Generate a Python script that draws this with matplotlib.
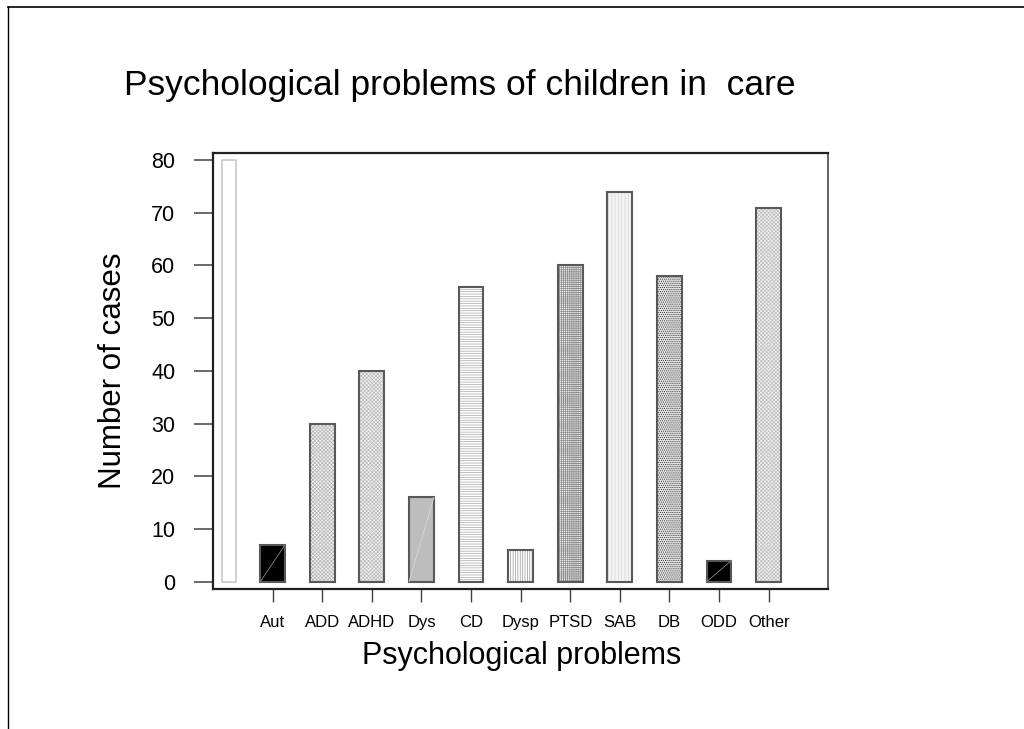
import numpy as np
import matplotlib.pyplot as plt
from matplotlib.lines import Line2D

plt.rcParams['font.family'] = ['Liberation Sans', 'DejaVu Sans']
plt.rcParams['hatch.linewidth'] = 0.5

# data
problems = ['Aut', 'ADD', 'ADHD', 'Dys', 'CD', 'Dysp', 'PTSD', 'SAB', 'DB', 'ODD', 'Other']
cases = [7, 30, 40, 16, 56, 6, 60, 74, 58, 4, 71]
blank_bar = 80  # unlabelled white bar at the far left

# fill styles per bar: (face colour, hatch, hatch colour)
styles = [('black', None, 'black'),
          ('#f2f2f2', 'xxxxxxxxx', '#b4b4b4'),
          ('#f2f2f2', 'xxxxxxxxx', '#b8b8b8'),
          ('#bdbdbd', None, '#bdbdbd'),
          ('white', '-------', '#a8a8a8'),
          ('white', '|||||||', '#959595'),
          ('#f0f0f0', '++++++++', '#8a8a8a'),
          ('#f4f4f4', '|||||', '#d6d6d6'),
          ('#e4e4e4', '........', '#303030'),
          ('black', None, 'black'),
          ('#f2f2f2', 'xxxxxxxxx', '#bcbcbc')]

fig = plt.figure(figsize=(10.24, 7.29), dpi=100)
ax = fig.add_axes([0.2077, 0.192, 0.6006, 0.5985])

x = np.arange(1, len(problems) + 1)

# blank bar
ax.bar(0.12, blank_bar, width=0.28, color='white', edgecolor='#c8c8c8', linewidth=1.2)

for xi, v, (fc, h, hc) in zip(x, cases, styles):
    ax.bar(xi, v, width=0.5, color=fc, hatch=h, edgecolor=hc, linewidth=0)
    b = ax.bar(xi, v, width=0.5, fill=False, edgecolor='#585858', linewidth=1.5)[0]
    if h is None:
        # thin diagonal across solid bars
        x0, w = b.get_x(), b.get_width()
        lc = '#888888' if fc == 'black' else '#d8d8d8'
        ax.plot([x0, x0 + w], [0, v], color=lc, lw=0.6)

ax.set_xlim(-0.21, 12.19)
ax.set_ylim(-1.4, 81.4)
ax.set_yticks(np.arange(0, 81, 10))
ax.set_xticks(x)
ax.set_xticklabels(problems, fontsize=12)
ax.tick_params(axis='y', labelsize=15.5, length=14, width=1.2, color='#505050', pad=13)
ax.tick_params(axis='x', length=9.5, width=1, color='#404040', pad=9)

for s in ['left', 'bottom', 'top']:
    ax.spines[s].set_color('#202020')
    ax.spines[s].set_linewidth(1.6)
ax.spines['right'].set_color('#606060')
ax.spines['right'].set_linewidth(1.4)

fig.text(460 / 1024, 1 - 85 / 729, 'Psychological problems of children in  care',
         fontsize=25.5, ha='center', va='center')
fig.text(522 / 1024, 1 - 656 / 729, 'Psychological problems',
         fontsize=22, ha='center', va='center')
fig.text(113 / 1024, 1 - 371 / 729, 'Number of cases',
         fontsize=22.5, ha='center', va='center', rotation=90)

# outer frame (top and left edges)
fig.add_artist(Line2D([8 / 1024, 1.0], [1 - 7 / 729, 1 - 7 / 729],
                      transform=fig.transFigure, color='black', lw=1.2))
fig.add_artist(Line2D([8 / 1024, 8 / 1024], [0, 1 - 7 / 729],
                      transform=fig.transFigure, color='black', lw=1.0))

fig.savefig('out.png', dpi=100)
